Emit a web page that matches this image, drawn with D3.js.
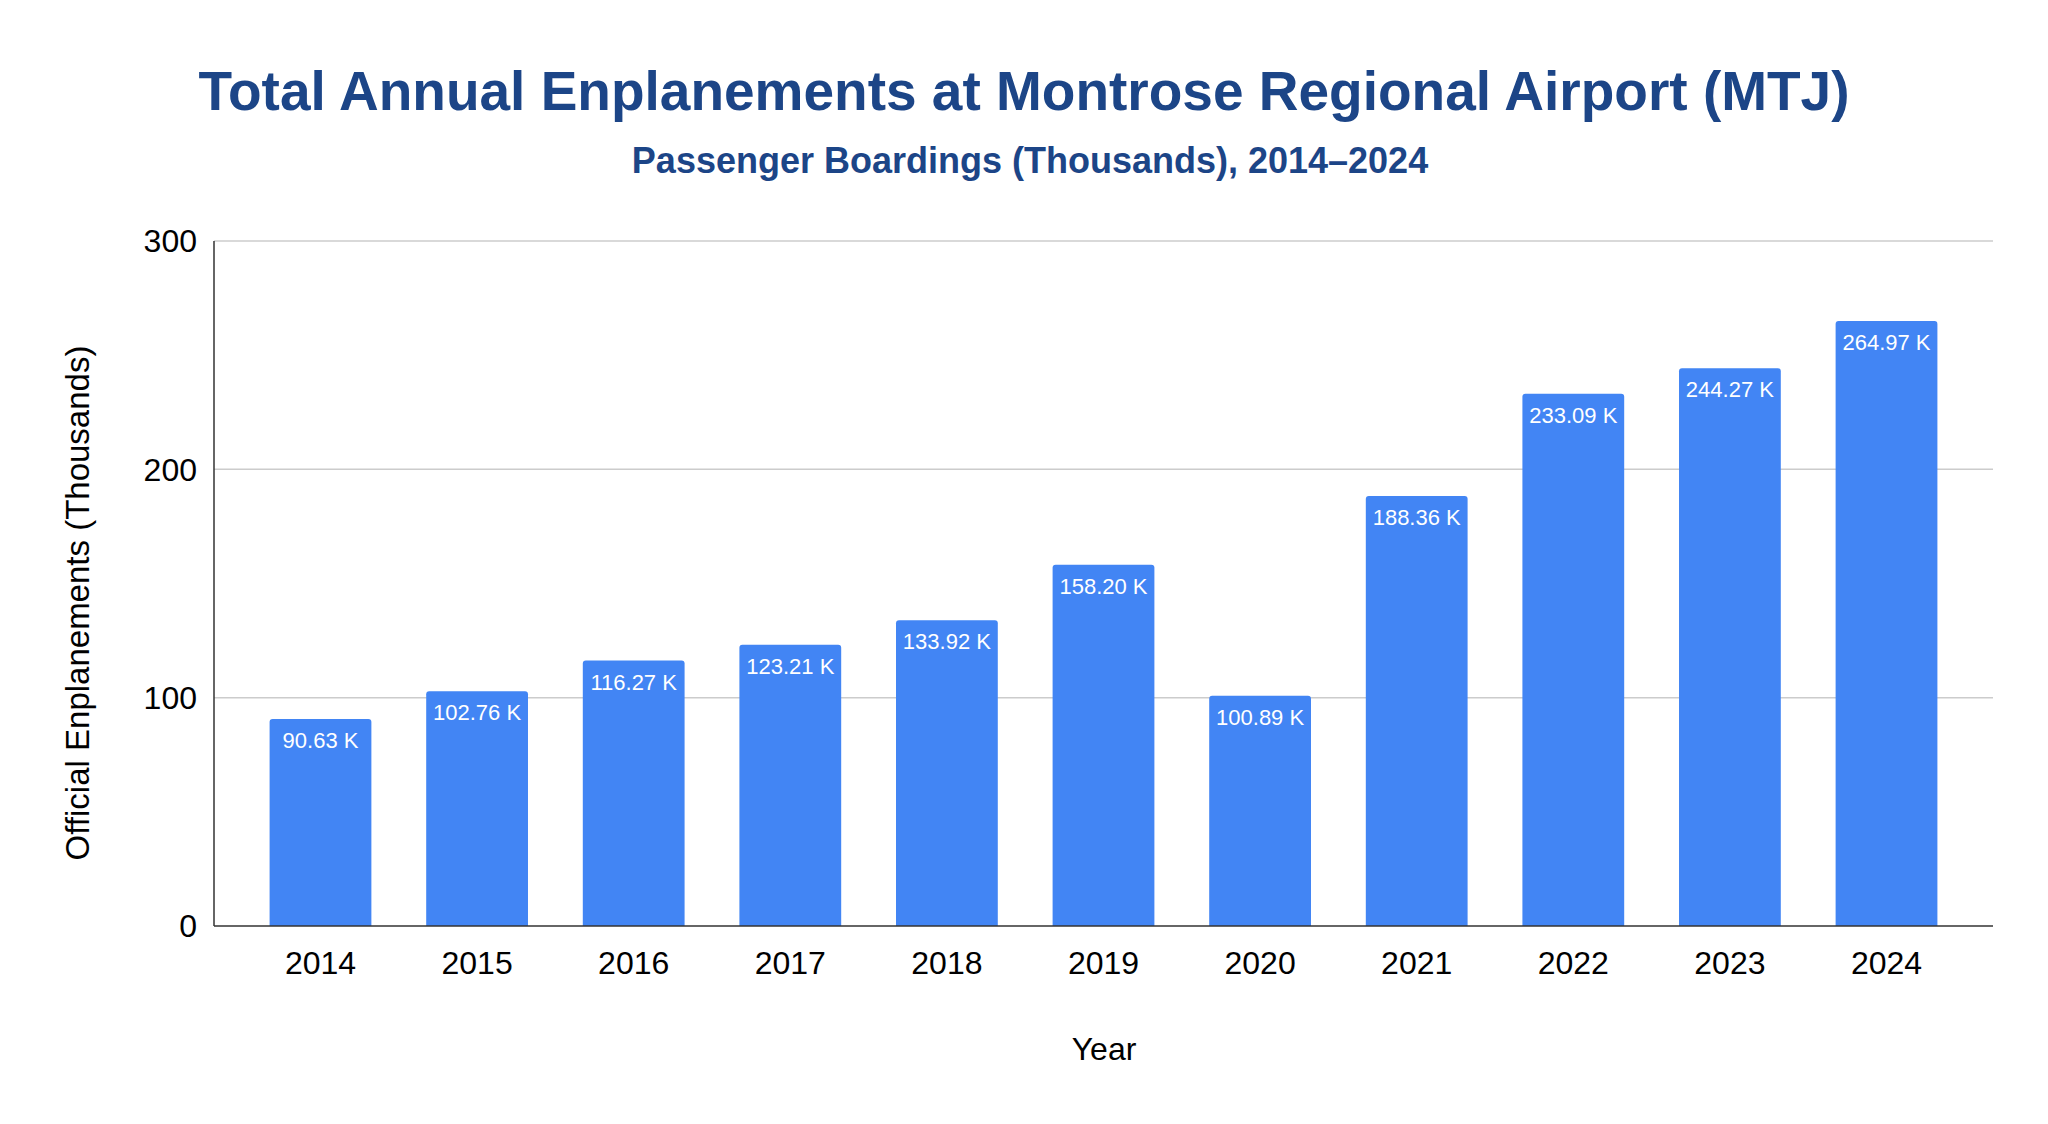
<!DOCTYPE html>
<html>
<head>
<meta charset="utf-8">
<script src="https://cdn.jsdelivr.net/npm/d3@7"></script>
<style>
  html, body { margin: 0; padding: 0; background: #fff; }
  svg { display: block; }
  text { font-family: Arial, "Liberation Sans", sans-serif; }
</style>
</head>
<body>
<svg id="chart" width="2048" height="1124"></svg>
<script>
const years = ["2014","2015","2016","2017","2018","2019","2020","2021","2022","2023","2024"];
const enplanements = [90.63, 102.76, 116.27, 123.21, 133.92, 158.20, 100.89, 188.36, 233.09, 244.27, 264.97];
const yTicks = [0, 100, 200, 300];
const titleText = "Total Annual Enplanements at Montrose Regional Airport (MTJ)";
const subtitleText = "Passenger Boardings (Thousands), 2014–2024";
const xAxisTitle = "Year";
const yAxisTitle = "Official Enplanements (Thousands)";

const svg = d3.select("#chart");
const W = 2048, H = 1124;
const pLeft = 214, pRight = 1993, pTop = 241, pBottom = 926;

svg.append("rect").attr("width", W).attr("height", H).attr("fill", "#fff");

const x = d3.scaleBand().domain(years).range([pLeft, pRight]).paddingInner(0.35).paddingOuter(0.355);
const y = d3.scaleLinear().domain([0, 300]).range([pBottom, pTop]);

// gridlines
svg.append("g").selectAll("line").data(yTicks.filter(d => d > 0)).join("line")
  .attr("x1", pLeft).attr("x2", pRight)
  .attr("y1", d => y(d)).attr("y2", d => y(d))
  .attr("stroke", "#cccccc").attr("stroke-width", 1.5);

// y tick labels
svg.append("g").selectAll("text").data(yTicks).join("text")
  .attr("x", 197).attr("y", d => y(d))
  .attr("dy", "0.35em")
  .attr("text-anchor", "end")
  .attr("font-size", 32).attr("fill", "#000")
  .text(d => d);

// bars
const barG = svg.append("g");
years.forEach((yr, i) => {
  const v = enplanements[i];
  const bx = x(yr), bw = x.bandwidth(), by = y(v);
  const r = 3;
  const path = `M${bx},${pBottom} V${by + r} Q${bx},${by} ${bx + r},${by} H${bx + bw - r} Q${bx + bw},${by} ${bx + bw},${by + r} V${pBottom} Z`;
  barG.append("path").attr("d", path).attr("fill", "#4285f4");
  barG.append("text")
    .attr("x", bx + bw / 2).attr("y", by + 29)
    .attr("text-anchor", "middle")
    .attr("font-size", 22).attr("fill", "#fff")
    .text(v.toFixed(2) + " K");
});

// axes lines
svg.append("line").attr("x1", pLeft).attr("x2", pLeft).attr("y1", pTop).attr("y2", pBottom)
  .attr("stroke", "#333").attr("stroke-width", 1.5);
svg.append("line").attr("x1", pLeft).attr("x2", pRight).attr("y1", pBottom).attr("y2", pBottom)
  .attr("stroke", "#333").attr("stroke-width", 1.5);

// x tick labels
svg.append("g").selectAll("text").data(years).join("text")
  .attr("x", d => x(d) + x.bandwidth() / 2).attr("y", 974)
  .attr("text-anchor", "middle")
  .attr("font-size", 32).attr("fill", "#000")
  .text(d => d);

// axis titles
svg.append("text").attr("x", 1104).attr("y", 1060)
  .attr("text-anchor", "middle").attr("font-size", 32).attr("fill", "#000")
  .text(xAxisTitle);
svg.append("text")
  .attr("transform", "translate(89,603) rotate(-90)")
  .attr("text-anchor", "middle").attr("font-size", 33).attr("fill", "#000")
  .text(yAxisTitle);

// titles
svg.append("text").attr("x", 1024).attr("y", 110)
  .attr("text-anchor", "middle").attr("font-size", 55).attr("font-weight", "bold").attr("fill", "#1c4587")
  .text(titleText);
svg.append("text").attr("x", 1030).attr("y", 173)
  .attr("text-anchor", "middle").attr("font-size", 36).attr("font-weight", "bold").attr("fill", "#1c4587")
  .text(subtitleText);
</script>
</body>
</html>
